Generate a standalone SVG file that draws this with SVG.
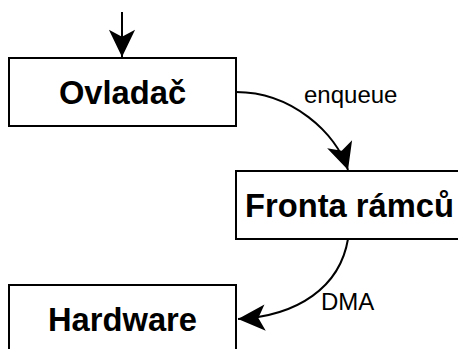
<svg xmlns="http://www.w3.org/2000/svg" width="458" height="349" viewBox="0 0 458 349">
<style>
.box{fill:#fff;stroke:#000;stroke-width:2}
.title{font-family:"Liberation Sans",Arial,sans-serif;font-weight:bold;font-size:32.7px;text-anchor:middle;fill:#000}
.lbl{font-family:"Liberation Sans",Arial,sans-serif;font-size:24px;fill:#000}
.edge{fill:none;stroke:#000;stroke-width:2}
</style>
<defs>
<marker id="ah" markerUnits="userSpaceOnUse" markerWidth="32" markerHeight="32" viewBox="-31 -16 33 32" refX="0" refY="0" orient="auto">
<path d="M0,0 L-28,-13.5 L-21,0 L-28,13.5 Z" fill="#000"/>
</marker>
</defs>
<g id="edges">
<path class="edge" d="M122,12 L122,57" marker-end="url(#ah)"/>
<path class="edge" d="M236,92 C292,92 336,133 348,170" marker-end="url(#ah)"/>
<path class="edge" d="M348,239 C340,287 298,316 238,319" marker-end="url(#ah)"/>
<text class="lbl" x="304" y="103">enqueue</text>
<text class="lbl" x="321" y="310">DMA</text>
</g>
<g id="ovladac">
<rect class="box" x="9" y="58" width="227" height="68"/>
<text class="title" x="122.5" y="103.5">Ovladač</text>
</g>
<g id="fronta">
<rect class="box" x="236" y="171" width="227" height="68"/>
<text class="title" x="349.5" y="216.5">Fronta rámců</text>
</g>
<g id="hardware">
<rect class="box" x="9" y="285" width="227" height="68"/>
<text class="title" x="122.5" y="330.5">Hardware</text>
</g>
</svg>
